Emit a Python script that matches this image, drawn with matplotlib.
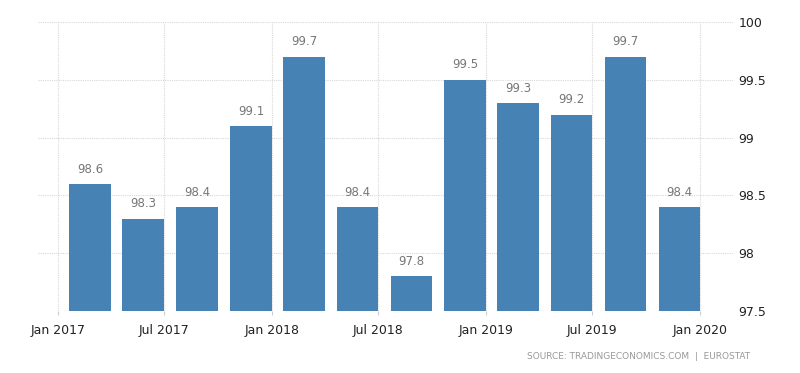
"""Gráfico de barras trimestrais no estilo TradingEconomics."""

import matplotlib
matplotlib.use("Agg")
import matplotlib.pyplot as plt
import matplotlib.dates as mdates
from datetime import datetime, timedelta

# dados (trimestres, barra termina na data)
trimestres = ["2017-04-01", "2017-07-01", "2017-10-01", "2018-01-01",
              "2018-04-01", "2018-07-01", "2018-10-01", "2019-01-01",
              "2019-04-01", "2019-07-01", "2019-10-01", "2020-01-01"]
valores = [98.6, 98.3, 98.4, 99.1, 99.7, 98.4, 97.8, 99.5, 99.3, 99.2, 99.7, 98.4]
rotulos_x = ["2017-01-01", "2017-07-01", "2018-01-01", "2018-07-01",
             "2019-01-01", "2019-07-01", "2020-01-01"]
ticks_y = [97.5, 98, 98.5, 99, 99.5, 100]
fonte = "SOURCE: TRADINGECONOMICS.COM  |  EUROSTAT"

datas = [datetime.fromisoformat(d) for d in trimestres]
datas_x = [datetime.fromisoformat(d) for d in rotulos_x]

plt.rcParams["font.family"] = ["DejaVu Sans"]

fig = plt.figure(figsize=(8, 3.73), dpi=100)
ax = fig.add_axes([0.0475, 0.166, 0.8688, 0.775])

cor = "#4682b4"
largura = 71  # dias
base = ticks_y[0]
alturas = [v - base for v in valores]
ax.bar(datas, alturas, width=-largura, align="edge", bottom=base,
       color=cor, zorder=3)

for d, v in zip(datas, valores):
    ax.annotate(f"{v}", (d - timedelta(days=largura / 2), v),
                xytext=(0, 6), textcoords="offset points",
                ha="center", va="bottom", fontsize=8.5, color="#777777")

ax.set_ylim(97.5, 100)
ax.set_xlim(datetime(2016, 11, 28), datetime(2020, 2, 26))
ax.yaxis.tick_right()
ax.set_yticks(ticks_y)
ax.set_yticklabels([f"{t:g}" for t in ticks_y])
ax.set_xticks(datas_x)
ax.xaxis.set_major_formatter(mdates.DateFormatter("%b %Y"))

ax.tick_params(axis="y", length=0, pad=4, labelsize=9, labelcolor="#222222")
ax.tick_params(axis="x", length=3, color="#cccccc", pad=6,
               labelsize=9, labelcolor="#222222")

ax.grid(True, color="#d8d8d8", linestyle=(0, (1, 1)), linewidth=0.8, zorder=0)
for lado in ax.spines.values():
    lado.set_visible(False)

fig.text(0.9375, 0.045, fonte, ha="right", va="center",
         fontsize=6.5, color="#999999")

fig.savefig("out.png", dpi=100)
plt.close(fig)
